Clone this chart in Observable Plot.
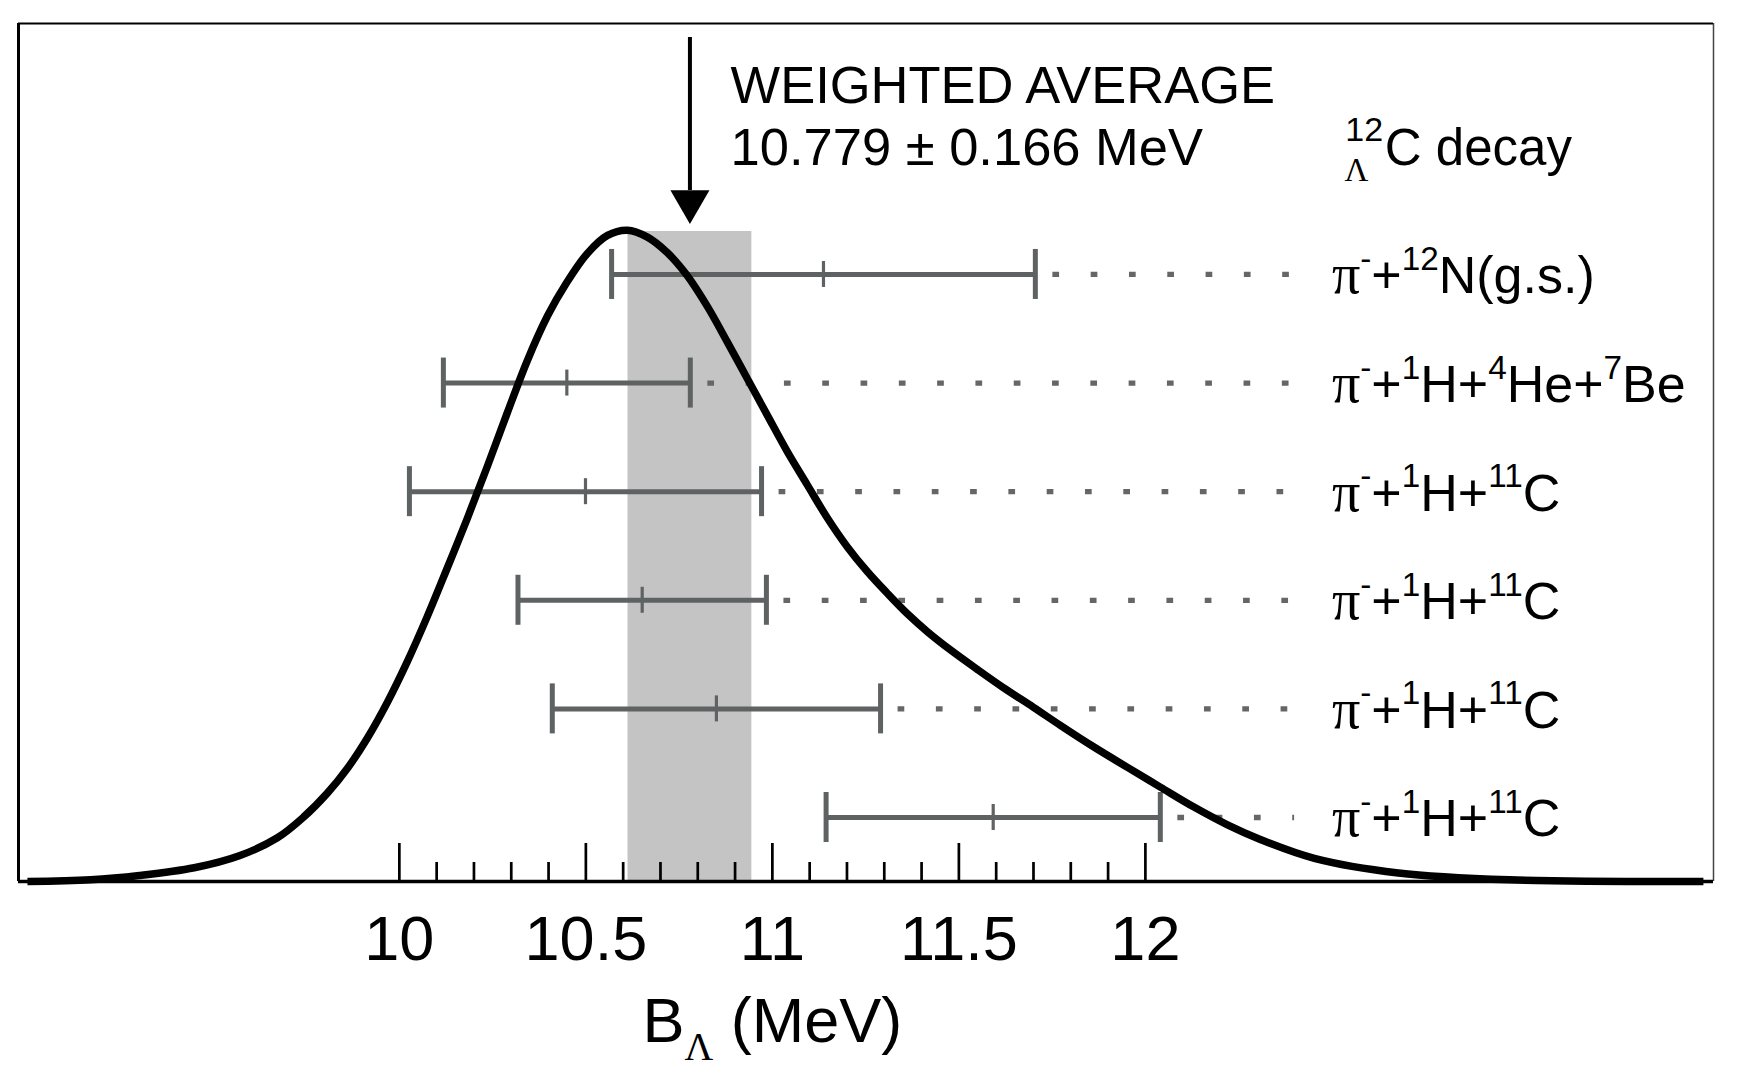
<!DOCTYPE html>
<html>
<head>
<meta charset="utf-8">
<script src="https://cdn.jsdelivr.net/npm/d3@7"></script>
<script src="https://cdn.jsdelivr.net/npm/@observablehq/plot@0.6"></script>
<style>
html, body { margin: 0; padding: 0; background: #fff; overflow: hidden; }
#chart svg { display: block; }
</style>
</head>
<body>
<div id="chart"></div>
<script>
// ---- data ----
const channels = [
  "π^{-}+^{12}N(g.s.)",
  "π^{-}+^{1}H+^{4}He+^{7}Be",
  "π^{-}+^{1}H+^{11}C",
  "π^{-}+^{1}H+^{11}C",
  "π^{-}+^{1}H+^{11}C",
  "π^{-}+^{1}H+^{11}C"
];
const bCenter = [11.137, 10.449, 10.499, 10.651, 10.850, 11.592];
const bError  = [0.568, 0.331, 0.472, 0.333, 0.440, 0.448];

const weightedAvg = 10.779;
const weightedErr = 0.166;

const curveX = [9.003, 9.172, 9.303, 9.450, 9.571, 9.673, 9.743, 9.807, 9.861, 9.914,
  9.968, 10.021, 10.075, 10.129, 10.182, 10.236, 10.290, 10.343, 10.397, 10.450,
  10.504, 10.558, 10.611, 10.665, 10.718, 10.772, 10.826, 10.879, 10.933, 10.987,
  11.040, 11.094, 11.147, 11.201, 11.255, 11.308, 11.362, 11.416, 11.477, 11.550,
  11.619, 11.700, 11.772, 11.861, 11.952, 12.040, 12.129, 12.220, 12.308, 12.453,
  12.678, 12.976, 13.496];
const curveY = [0.000, 0.002, 0.007, 0.016, 0.030, 0.051, 0.075, 0.103, 0.132, 0.167,
  0.209, 0.256, 0.309, 0.366, 0.423, 0.484, 0.547, 0.607, 0.659, 0.699,
  0.732, 0.753, 0.759, 0.751, 0.733, 0.706, 0.670, 0.629, 0.586, 0.543,
  0.501, 0.462, 0.424, 0.390, 0.361, 0.336, 0.312, 0.291, 0.270, 0.247,
  0.226, 0.203, 0.182, 0.157, 0.133, 0.110, 0.087, 0.066, 0.049, 0.027,
  0.010, 0.002, 0.000];

const majorTicks = [10, 10.5, 11, 11.5, 12];
const tickLabels = ["10", "10.5", "11", "11.5", "12"];
const minorTicks = d3.range(100, 121).filter(i => i % 5 !== 0).map(i => i / 10);

const xTitle = "B_{Λ} (MeV)";
const avgTitle = "WEIGHTED AVERAGE";
const decayMass = "12";
const decayHyper = "Λ";
const decayName = "C decay";

// ---- layout helpers ----
const xDomain = [8.979, 13.523];
const H = 858;                     // plot height in px (y domain 0..1)
const px = p => p / H;             // pixel length -> y units
const rowY = i => 0.0746 + (channels.length - 1 - i) * 0.12658;

const rows = channels.map((label, i) => ({label, i, c: bCenter[i], e: bError[i], y: rowY(i)}));
const curve = curveX.map((x, i) => ({x, y: curveY[i]}));

const gray = "#5f6263";
const sans = "'Liberation Sans', Arial, Helvetica, sans-serif";
const serif = "'Liberation Serif', 'Times New Roman', serif";

const chart = Plot.plot({
  width: 1740,
  height: 1082,
  marginLeft: 18,
  marginRight: 27,
  marginTop: 23,
  marginBottom: 201,
  x: {domain: xDomain, axis: null},
  y: {domain: [0, 1], axis: null},
  style: {fontFamily: sans, background: "white", color: "black", overflow: "visible"},
  marks: [
    // weighted-average band
    Plot.rect([{x1: weightedAvg - weightedErr, x2: weightedAvg + weightedErr, y1: 0, y2: 0.7576}],
      {x1: "x1", x2: "x2", y1: "y1", y2: "y2", fill: "#c3c4c3"}),
    // dotted leaders
    Plot.ruleY(rows, {y: "y", x1: d => d.c + d.e + 0.047, x2: 12.4,
      stroke: "#666666", strokeWidth: 5.3, strokeDasharray: "6.7 31.6"}),
    // error bars
    Plot.ruleY(rows, {y: "y", x1: d => d.c - d.e, x2: d => d.c + d.e, stroke: gray, strokeWidth: 5}),
    Plot.ruleX(rows.flatMap(d => [{x: d.c - d.e, y: d.y}, {x: d.c + d.e, y: d.y}]),
      {x: "x", y1: d => d.y - px(25), y2: d => d.y + px(25), stroke: gray, strokeWidth: 5}),
    Plot.ruleX(rows, {x: "c", y1: d => d.y - px(13), y2: d => d.y + px(13), stroke: gray, strokeWidth: 3.2}),
    // inner ticks
    Plot.ruleX(minorTicks, {x: d => d, y1: 0, y2: px(19), stroke: "black", strokeWidth: 2.7}),
    Plot.ruleX(majorTicks, {x: d => d, y1: 0, y2: px(38), stroke: "black", strokeWidth: 2.7}),
    // frame
    Plot.ruleX([xDomain[0]], {stroke: "black", strokeWidth: 3}),
    Plot.ruleX([xDomain[1]], {stroke: "#444", strokeWidth: 1.5}),
    Plot.ruleY([1], {stroke: "black", strokeWidth: 2}),
    Plot.ruleY([0], {stroke: "black", strokeWidth: 3.5}),
    // distribution curve
    Plot.line(curve, {x: "x", y: "y", curve: "catmull-rom", stroke: "black", strokeWidth: 7.5,
      strokeLinejoin: "round", strokeLinecap: "butt"}),
    // arrow
    Plot.ruleX([weightedAvg], {x: d => d, y1: 0.8054, y2: 0.9837, stroke: "black", strokeWidth: 4}),
    Plot.dot([weightedAvg], {x: d => d, y: 0.7925, symbol: "triangle", r: 14.5, fill: "black", rotate: 180}),
    // annotation
    Plot.text([avgTitle], {x: 10.888, y: 0.9079, text: d => d, textAnchor: "start", lineAnchor: "bottom", fontSize: 52.5}),
    Plot.text([`${weightedAvg.toFixed(3)} ± ${weightedErr.toFixed(3)} MeV`],
      {x: 10.888, y: 0.8345, text: d => d, textAnchor: "start", lineAnchor: "bottom", fontSize: 52.5}),
    // hypernucleus label
    Plot.text([decayMass], {x: 12.536, y: 0.8636, text: d => d, textAnchor: "start", lineAnchor: "bottom", fontSize: 34}),
    Plot.text([decayHyper], {x: 12.534, y: 0.817, text: d => d, textAnchor: "start", lineAnchor: "bottom", fontSize: 33, fontFamily: serif}),
    Plot.text([decayName], {x: 12.642, y: 0.8345, text: d => d, textAnchor: "start", lineAnchor: "bottom", fontSize: 51}),
    // channel labels
    Plot.text(rows, {x: 12.5, y: "y", text: "label", dy: 19, textAnchor: "start", lineAnchor: "bottom", fontSize: 52}),
    // tick labels
    Plot.text(majorTicks, {x: d => d, y: 0, text: (d, i) => tickLabels[i], dy: 78, textAnchor: "middle", lineAnchor: "bottom", fontSize: 63}),
    // axis title
    Plot.text([xTitle], {x: 11, y: 0, text: d => d, dy: 160, textAnchor: "middle", lineAnchor: "bottom", fontSize: 63})
  ]
});

// rich text: ^{..} superscripts, _{..} subscripts, serif π / Λ
function richify(svg, o) {
  const NS = "http://www.w3.org/2000/svg";
  svg.querySelectorAll("text").forEach(t => {
    const s = t.textContent;
    if (!/[\^_]\{/.test(s)) return;
    const base = parseFloat(t.getAttribute("font-size")) ||
      parseFloat(t.parentNode.getAttribute("font-size")) || 50;
    const supSize = o.supRatio * base, subSize = o.subRatio * base;
    const rise = o.riseRatio * base, drop = o.dropRatio * base;
    t.textContent = "";
    const re = /\^\{([^}]*)\}|_\{([^}]*)\}|(π)|([^\^_π]+)/g;
    let m, shift = 0;
    while ((m = re.exec(s))) {
      const ts = document.createElementNS(NS, "tspan");
      let target = 0;
      if (m[1] !== undefined) {
        ts.textContent = m[1]; ts.setAttribute("font-size", supSize); target = -rise;
      } else if (m[2] !== undefined) {
        ts.textContent = m[2]; ts.setAttribute("font-size", subSize);
        ts.setAttribute("font-family", serif); target = drop;
      } else if (m[3] !== undefined) {
        ts.textContent = m[3]; ts.setAttribute("font-family", serif);
        ts.setAttribute("font-size", o.piRatio * base);
      } else {
        ts.textContent = m[4];
      }
      const dy = target - shift;
      if (dy) ts.setAttribute("dy", dy);
      shift = target;
      t.appendChild(ts);
    }
  });
}
richify(chart, {supRatio: 0.64, subRatio: 0.63, riseRatio: 0.45, dropRatio: 0.3, piRatio: 1.08});

document.getElementById("chart").appendChild(chart);
</script>
</body>
</html>
